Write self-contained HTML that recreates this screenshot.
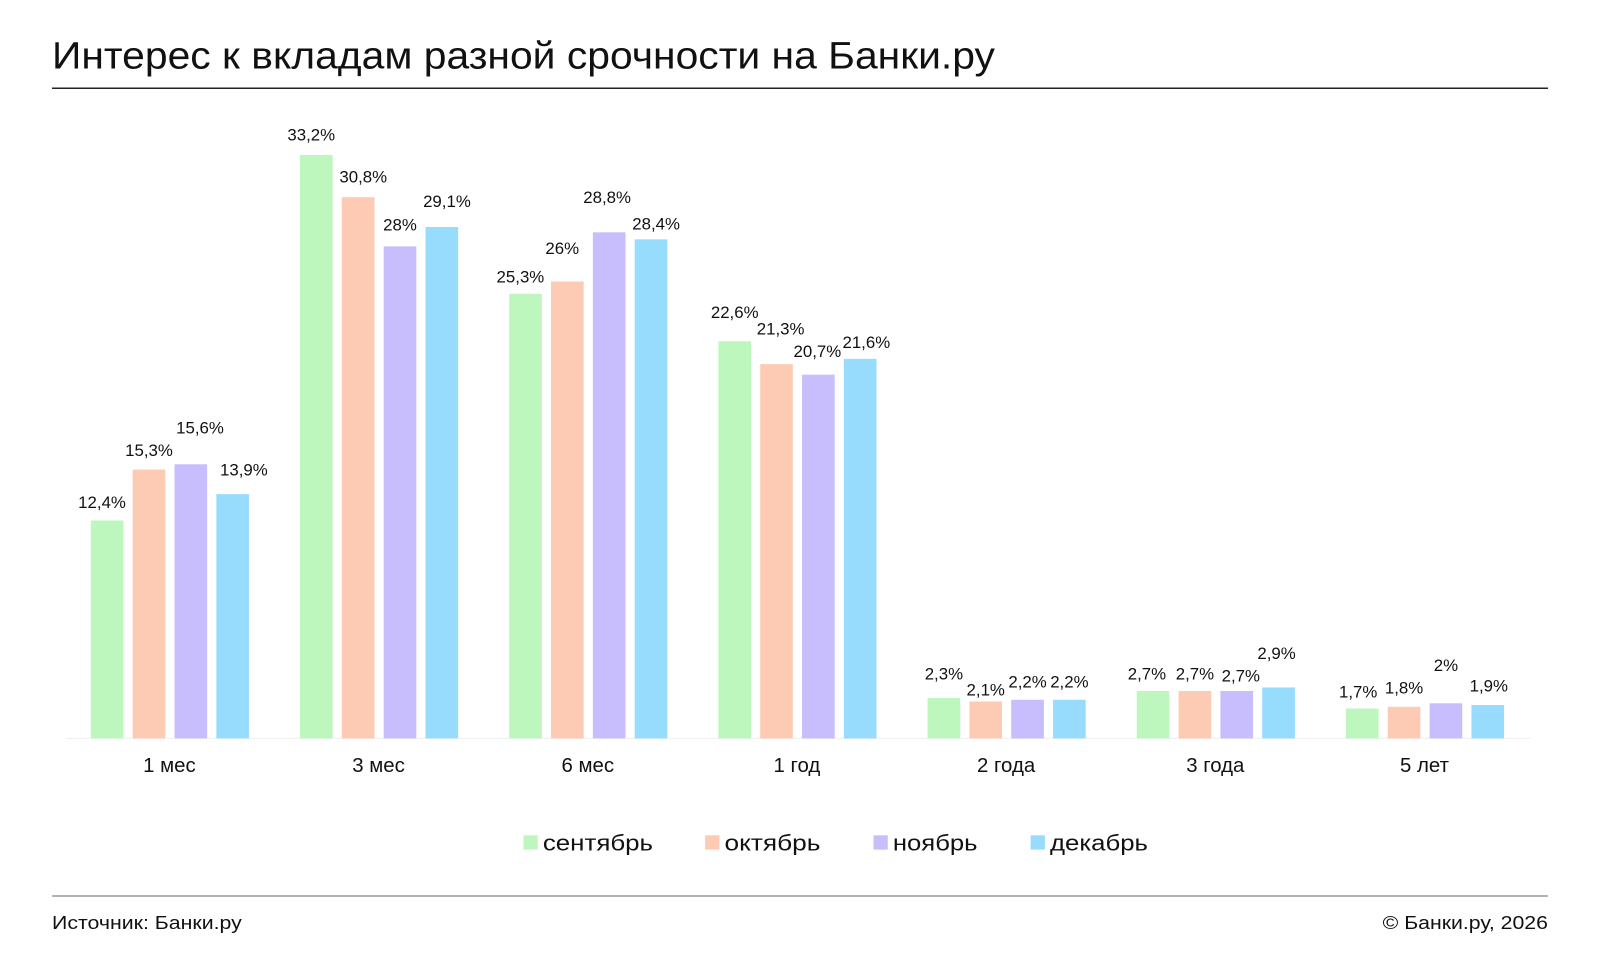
<!DOCTYPE html>
<html><head><meta charset="utf-8"><style>
html,body{margin:0;padding:0;background:#fff;}
svg{display:block;font-family:"Liberation Sans","DejaVu Sans",sans-serif;}
</style></head><body>
<svg width="1600" height="973" viewBox="0 0 1568 954" preserveAspectRatio="none" xmlns="http://www.w3.org/2000/svg">
<text x="51" y="67" font-size="37" fill="#111" textLength="924" lengthAdjust="spacingAndGlyphs">Интерес к вкладам разной срочности на Банки.ру</text>
<line x1="51" y1="86.5" x2="1517" y2="86.5" stroke="#222" stroke-width="1.5"/>
<line x1="64" y1="724" x2="1500" y2="724" stroke="#eee" stroke-width="1"/>
<g id="bars"></g>
<g font-size="16.5" fill="#111" text-anchor="middle" id="labels"></g>
<g font-size="20" fill="#111" text-anchor="middle">
<text x="166" y="757">1 мес</text><text x="371" y="757">3 мес</text><text x="576" y="757">6 мес</text><text x="781" y="757">1 год</text><text x="986" y="757">2 года</text><text x="1191" y="757">3 года</text><text x="1396" y="757">5 лет</text>
</g>
<g font-size="22" fill="#111">
<rect x="513" y="819" width="14" height="14" fill="#bdf7be"/><text x="532" y="834" textLength="108" lengthAdjust="spacingAndGlyphs">сентябрь</text>
<rect x="691" y="819" width="14" height="14" fill="#fdcbb4"/><text x="710" y="834" textLength="94" lengthAdjust="spacingAndGlyphs">октябрь</text>
<rect x="856" y="819" width="14" height="14" fill="#c8bdfd"/><text x="875" y="834" textLength="83" lengthAdjust="spacingAndGlyphs">ноябрь</text>
<rect x="1010" y="819" width="14" height="14" fill="#98dcfd"/><text x="1029" y="834" textLength="96" lengthAdjust="spacingAndGlyphs">декабрь</text>
</g>
<line x1="51" y1="878.5" x2="1517" y2="878.5" stroke="#666" stroke-width="1"/>
<text x="51" y="911" font-size="18" fill="#111" textLength="186" lengthAdjust="spacingAndGlyphs">Источник: Банки.ру</text>
<text x="1355" y="911" font-size="18" fill="#111" textLength="162" lengthAdjust="spacingAndGlyphs">© Банки.ру, 2026</text>
<script>
var d=[[12.4,15.3,15.6,13.9],[33.2,30.8,28,29.1],[25.3,26,28.8,28.4],[22.6,21.3,20.7,21.6],[2.3,2.1,2.2,2.2],[2.7,2.7,2.7,2.9],[1.7,1.8,2,1.9]];
var L=[[[100,498],[146,447],[196,425],[239,466]],[[305,138],[356,179],[392,226],[438,203]],[[510,277],[551,249],[595,199],[643,225]],[[720,312],[765,328],[801,350],[849,341]],[[925,666],[966,682],[1007,674],[1048,674]],[[1124,666],[1171,666],[1216,668],[1251,646]],[[1331,684],[1376,680],[1417,658],[1459,678]]];
var c=["#bdf7be","#fdcbb4","#c8bdfd","#98dcfd"];var ns="http://www.w3.org/2000/svg";
var B=document.getElementById("bars"),T=document.getElementById("labels");
for(var g=0;g<7;g++)for(var i=0;i<4;i++){var v=d[g][i],h=v*17.23,x=89+g*205+i*41;
var r=document.createElementNS(ns,"rect");r.setAttribute("x",x);r.setAttribute("y",724-h);r.setAttribute("width",32);r.setAttribute("height",h);r.setAttribute("fill",c[i]);B.appendChild(r);
var t=document.createElementNS(ns,"text");t.setAttribute("x",L[g][i][0]);t.setAttribute("y",L[g][i][1]);t.textContent=String(v).replace(".",",")+"%";T.appendChild(t);}
</script>
</svg>
</body></html>
